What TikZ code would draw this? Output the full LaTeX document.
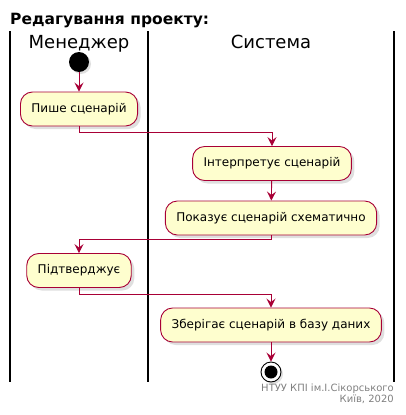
\documentclass[tikz,border=0pt]{standalone}
\usepackage{fontspec}
\setmainfont{DejaVu Sans}
\usepackage{tikz}
\usetikzlibrary{arrows.meta,shadows}
\definecolor{umlred}{HTML}{A80036}
\definecolor{umlfill}{HTML}{FEFECE}
\colorlet{footgray}{black!50}

\begin{document}
\begin{tikzpicture}[x=1pt, y=-1pt, >={Stealth[length=9pt, width=9pt, inset=3.5pt]},
    font=\fontsize{12}{14}\selectfont,
    act/.style={draw=umlred, fill=umlfill, line width=0.9pt, rounded corners=12pt,
        minimum height=34pt, inner xsep=11pt,
        drop shadow={shadow xshift=3pt, shadow yshift=-3pt, opacity=0.25}},
    flow/.style={->, umlred, line width=0.9pt},
    lane/.style={line width=1.3pt}]

    \useasboundingbox (0,0) rectangle (405,415);

    % ===== TITLE & LANES =====
    \node[anchor=base west, inner sep=0, font=\fontsize{15.5}{18}\selectfont\bfseries] (title) at (10, 24) {Редагування проекту:};
    \foreach \lx in {10, 148, 394} {
        \draw[lane] (\lx, 31) -- (\lx, 382);
    }
    \node[anchor=base, inner sep=0, font=\fontsize{18}{20}\selectfont] (mgr) at (79, 48) {Менеджер};
    \node[anchor=base, inner sep=0, font=\fontsize{18}{20}\selectfont] (sys) at (271, 48) {Система};

    % ===== ACTIVITIES =====
    \node[circle, fill=black, minimum size=20pt, inner sep=0,
        drop shadow={shadow xshift=2pt, shadow yshift=-2pt, opacity=0.25}] (start) at (79, 62) {};
    \node[act] (write) at (79, 109) {Пише сценарій};
    \node[act] (interp) at (272, 163.5) {Інтерпретує сценарій};
    \node[act] (show) at (271, 218) {Показує сценарій схематично};
    \node[act] (confirm) at (79, 270.5) {Підтверджує};
    \node[act] (save) at (271, 325) {Зберігає сценарій в базу даних};
    \node[circle, draw=black, fill=white, line width=0.9pt, minimum size=20pt, inner sep=0,
        drop shadow={shadow xshift=2pt, shadow yshift=-2pt, opacity=0.25}] (stop) at (271, 372) {};
    \fill[black] (stop.center) circle (6.5);

    % ===== FLOW =====
    \draw[flow] (start) -- (write);
    \draw[flow] (write.south) -- ++(0, 6) -| (interp.north);
    \draw[flow] (interp) -- (show);
    \draw[flow] (show.south) -- ++(0, 4) -| (confirm.north);
    \draw[flow] (confirm.south) -- ++(0, 6) -| (save.north);
    \draw[flow] (save) -- (stop);

    % ===== FOOTER =====
    \node[anchor=base east, inner sep=0, text=footgray, font=\fontsize{10}{12}\selectfont] (org) at (394, 391) {НТУУ КПІ ім.І.Сікорського};
    \node[anchor=base east, inner sep=0, text=footgray, font=\fontsize{10}{12}\selectfont] (city) at (394, 402) {Київ, 2020};

\end{tikzpicture}
\end{document}
